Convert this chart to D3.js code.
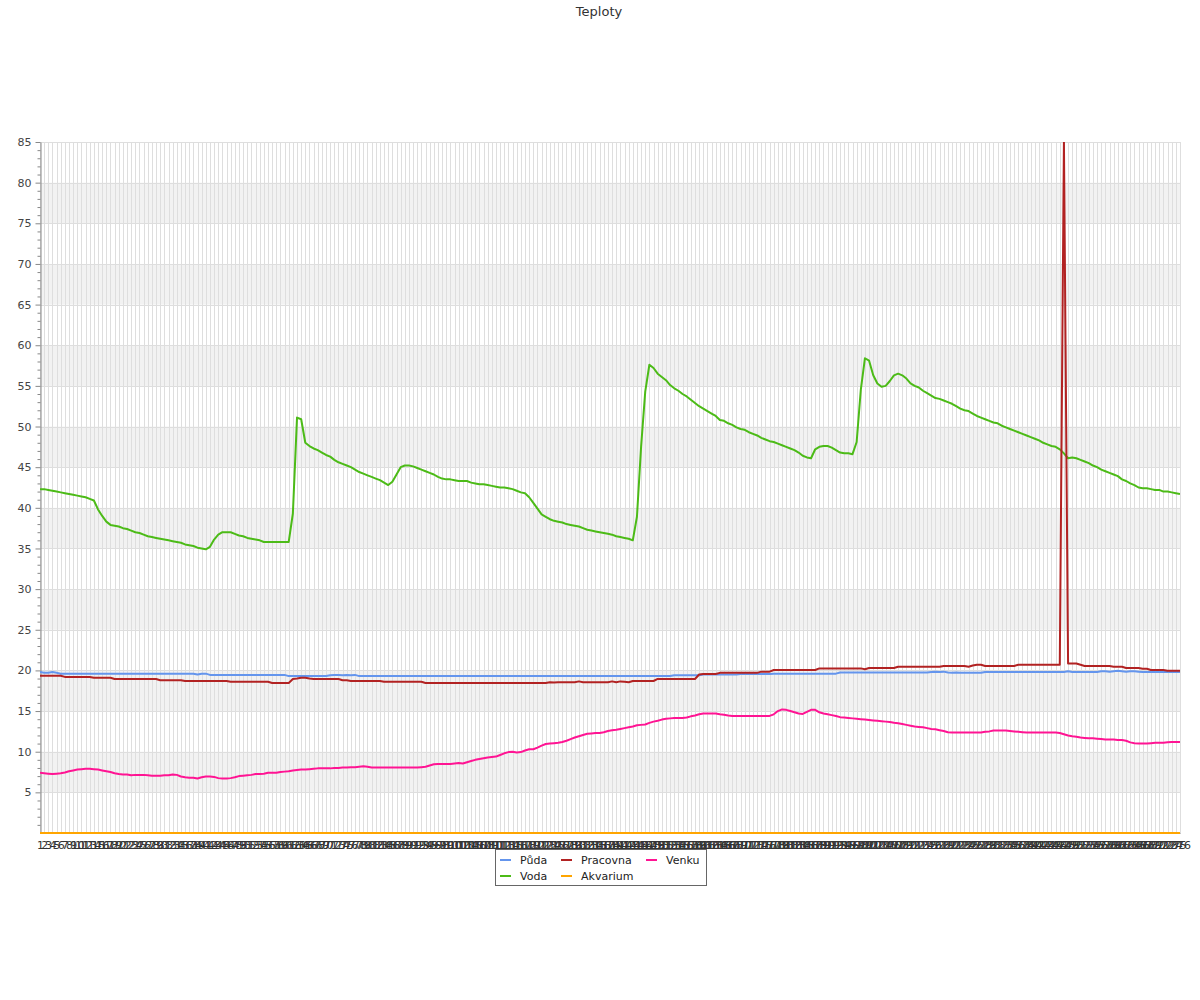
<!DOCTYPE html>
<html><head><meta charset="utf-8">
<script src="https://cdn.jsdelivr.net/npm/d3@7"></script>
<style>body{margin:0;background:#fff;} text{font-family:"DejaVu Sans",sans-serif;}</style>
</head><body><svg id="chart" width="1200" height="1000"></svg>
<script>
const chartTitle = "Teploty";
const categories = [
1,2,3,4,5,6,7,8,9,10,11,12,13,14,15,16,17,18,19,20,
21,22,23,24,25,26,27,28,29,30,31,32,33,34,35,36,37,38,39,40,
41,42,43,44,45,46,47,48,49,50,51,52,53,54,55,56,57,58,59,60,
61,62,63,64,65,66,67,68,69,70,71,72,73,74,75,76,77,78,79,80,
81,82,83,84,85,86,87,88,89,90,91,92,93,94,95,96,97,98,99,100,
101,102,103,104,105,106,107,108,109,110,111,112,113,114,115,116,117,118,119,120,
121,122,123,124,125,126,127,128,129,130,131,132,133,134,135,136,137,138,139,140,
141,142,143,144,145,146,147,148,149,150,151,152,153,154,155,156,157,158,159,160,
161,162,163,164,165,166,167,168,169,170,171,172,173,174,175,176,177,178,179,180,
181,182,183,184,185,186,187,188,189,190,191,192,193,194,195,196,197,198,199,200,
201,202,203,204,205,206,207,208,209,210,211,212,213,214,215,216,217,218,219,220,
221,222,223,224,225,226,227,228,229,230,231,232,233,234,235,236,237,238,239,240,
241,242,243,244,245,246,247,248,249,250,251,252,253,254,255,256,257,258,259,260,
261,262,263,264,265,266,267,268,269,270,271,272,273,274,275,276];

const pudaValues = [
19.8,19.7,19.7,19.8,19.7,19.6,19.6,19.6,19.6,19.6,
19.6,19.6,19.6,19.6,19.6,19.6,19.6,19.6,19.6,19.6,
19.6,19.6,19.6,19.6,19.6,19.6,19.6,19.6,19.6,19.6,
19.6,19.6,19.6,19.6,19.6,19.6,19.6,19.6,19.5,19.6,
19.6,19.45,19.45,19.45,19.45,19.45,19.45,19.45,19.45,19.45,
19.45,19.45,19.45,19.45,19.45,19.45,19.45,19.45,19.45,19.45,
19.3,19.3,19.3,19.3,19.3,19.3,19.3,19.3,19.3,19.3,
19.4,19.45,19.45,19.4,19.45,19.4,19.45,19.3,19.3,19.3,
19.3,19.3,19.3,19.3,19.3,19.3,19.3,19.3,19.3,19.3,
19.3,19.3,19.3,19.3,19.3,19.3,19.3,19.3,19.3,19.3,
19.3,19.3,19.3,19.3,19.3,19.3,19.3,19.3,19.3,19.3,
19.3,19.3,19.3,19.3,19.3,19.3,19.3,19.3,19.3,19.3,
19.3,19.3,19.3,19.3,19.3,19.3,19.3,19.3,19.3,19.3,
19.3,19.3,19.3,19.3,19.3,19.3,19.3,19.3,19.3,19.3,
19.3,19.3,19.3,19.3,19.3,19.3,19.3,19.3,19.3,19.3,
19.3,19.3,19.3,19.4,19.4,19.4,19.4,19.4,19.4,19.4,
19.5,19.5,19.5,19.5,19.5,19.5,19.5,19.5,19.5,19.55,
19.55,19.55,19.55,19.55,19.55,19.55,19.55,19.6,19.6,19.6,
19.6,19.6,19.6,19.6,19.6,19.6,19.6,19.6,19.6,19.6,
19.6,19.6,19.6,19.75,19.75,19.75,19.75,19.75,19.75,19.75,
19.75,19.75,19.75,19.75,19.75,19.75,19.75,19.75,19.75,19.75,
19.75,19.75,19.75,19.75,19.75,19.8,19.85,19.8,19.85,19.75,
19.7,19.75,19.7,19.7,19.7,19.7,19.7,19.7,19.8,19.8,
19.8,19.8,19.8,19.8,19.8,19.8,19.8,19.8,19.8,19.8,
19.8,19.8,19.8,19.8,19.8,19.8,19.8,19.8,19.9,19.8,
19.8,19.8,19.8,19.8,19.8,19.8,19.9,19.9,19.85,19.9,
19.95,19.9,19.85,19.9,19.9,19.85,19.8,19.8,19.8,19.8,
19.8,19.8,19.8,19.8,19.8,19.8];

const vodaValues = [
42.3,42.3,42.2,42.1,42.0,41.9,41.8,41.7,41.6,41.5,
41.4,41.3,41.1,40.9,39.8,39.0,38.3,37.9,37.8,37.7,
37.5,37.4,37.2,37.0,36.9,36.7,36.5,36.4,36.3,36.2,
36.1,36.0,35.9,35.8,35.7,35.5,35.4,35.3,35.1,35.0,
34.9,35.2,36.1,36.7,37.0,37.0,37.0,36.8,36.6,36.5,
36.3,36.2,36.1,36.0,35.8,35.8,35.8,35.8,35.8,35.8,
35.8,39.3,51.1,50.9,48.0,47.6,47.3,47.1,46.8,46.5,
46.3,45.9,45.6,45.4,45.2,45.0,44.7,44.4,44.2,44.0,
43.8,43.6,43.4,43.1,42.8,43.2,44.1,45.0,45.2,45.2,
45.1,44.9,44.7,44.5,44.3,44.1,43.8,43.6,43.5,43.5,
43.4,43.3,43.3,43.3,43.1,43.0,42.9,42.9,42.8,42.7,
42.6,42.5,42.5,42.4,42.3,42.1,41.9,41.8,41.3,40.6,
39.9,39.2,38.9,38.6,38.4,38.3,38.2,38.0,37.9,37.8,
37.7,37.5,37.3,37.2,37.1,37.0,36.9,36.8,36.7,36.5,
36.4,36.3,36.2,36.0,38.9,47.5,54.3,57.6,57.2,56.5,
56.1,55.7,55.1,54.7,54.4,54.0,53.7,53.3,52.9,52.5,
52.2,51.9,51.6,51.3,50.8,50.7,50.4,50.2,49.9,49.7,
49.6,49.3,49.1,48.9,48.6,48.4,48.2,48.1,47.9,47.7,
47.5,47.3,47.1,46.8,46.4,46.2,46.1,47.2,47.5,47.6,
47.6,47.4,47.1,46.8,46.7,46.7,46.6,48.1,54.5,58.4,
58.1,56.3,55.3,54.9,55.0,55.6,56.3,56.5,56.3,55.9,
55.3,55.0,54.8,54.4,54.1,53.8,53.5,53.4,53.2,53.0,
52.8,52.5,52.2,52.0,51.9,51.6,51.3,51.1,50.9,50.7,
50.5,50.4,50.1,49.9,49.7,49.5,49.3,49.1,48.9,48.7,
48.5,48.3,48.0,47.8,47.6,47.5,47.2,46.7,46.1,46.2,
46.1,45.9,45.7,45.5,45.2,45.0,44.7,44.5,44.3,44.1,
43.9,43.5,43.3,43.0,42.8,42.5,42.4,42.4,42.3,42.2,
42.2,42.0,42.0,41.9,41.8,41.7];

const pracovnaValues = [
19.35,19.35,19.35,19.35,19.35,19.35,19.2,19.2,19.2,19.2,
19.2,19.2,19.2,19.1,19.1,19.1,19.1,19.1,18.95,18.95,
18.95,18.95,18.95,18.95,18.95,18.95,18.95,18.95,18.95,18.8,
18.8,18.8,18.8,18.8,18.8,18.7,18.7,18.7,18.7,18.7,
18.7,18.7,18.7,18.7,18.7,18.7,18.6,18.6,18.6,18.6,
18.6,18.6,18.6,18.6,18.6,18.6,18.45,18.45,18.45,18.45,
18.45,18.95,19.0,19.1,19.1,19.0,18.95,18.95,18.95,18.95,
18.95,18.95,18.95,18.8,18.8,18.7,18.7,18.7,18.7,18.7,
18.7,18.7,18.7,18.6,18.6,18.6,18.6,18.6,18.6,18.6,
18.6,18.6,18.6,18.45,18.45,18.45,18.45,18.45,18.45,18.45,
18.45,18.45,18.45,18.45,18.45,18.45,18.45,18.45,18.45,18.45,
18.45,18.45,18.45,18.45,18.45,18.45,18.45,18.45,18.45,18.45,
18.45,18.45,18.45,18.55,18.5,18.55,18.55,18.55,18.55,18.55,
18.65,18.55,18.55,18.55,18.55,18.55,18.55,18.55,18.65,18.55,
18.65,18.6,18.55,18.7,18.7,18.7,18.7,18.7,18.7,18.95,
18.95,18.95,18.95,18.95,18.95,18.95,18.95,18.95,18.95,19.5,
19.55,19.55,19.55,19.55,19.7,19.7,19.7,19.7,19.7,19.7,
19.7,19.7,19.7,19.7,19.85,19.85,19.85,20.05,20.05,20.05,
20.05,20.05,20.05,20.05,20.05,20.05,20.05,20.05,20.25,20.25,
20.25,20.25,20.25,20.25,20.25,20.25,20.25,20.25,20.25,20.15,
20.3,20.3,20.3,20.3,20.3,20.3,20.3,20.45,20.45,20.45,
20.45,20.45,20.45,20.45,20.45,20.45,20.45,20.45,20.55,20.55,
20.55,20.55,20.55,20.55,20.45,20.6,20.7,20.7,20.55,20.55,
20.55,20.55,20.55,20.55,20.55,20.55,20.7,20.7,20.7,20.7,
20.7,20.7,20.7,20.7,20.7,20.7,20.7,85,20.85,20.85,
20.85,20.7,20.55,20.55,20.55,20.55,20.55,20.55,20.55,20.45,
20.45,20.45,20.3,20.3,20.3,20.3,20.2,20.2,20.05,20.05,
20.05,20.05,19.95,19.95,19.95,19.95];

const akvariumValues = [
0,0,0,0,0,0,0,0,0,0, 0,0,0,0,0,0,0,0,0,0, 0,0,0,0,0,0,0,0,0,0,
0,0,0,0,0,0,0,0,0,0, 0,0,0,0,0,0,0,0,0,0, 0,0,0,0,0,0,0,0,0,0,
0,0,0,0,0,0,0,0,0,0, 0,0,0,0,0,0,0,0,0,0, 0,0,0,0,0,0,0,0,0,0,
0,0,0,0,0,0,0,0,0,0, 0,0,0,0,0,0,0,0,0,0, 0,0,0,0,0,0,0,0,0,0,
0,0,0,0,0,0,0,0,0,0, 0,0,0,0,0,0,0,0,0,0, 0,0,0,0,0,0,0,0,0,0,
0,0,0,0,0,0,0,0,0,0, 0,0,0,0,0,0,0,0,0,0, 0,0,0,0,0,0,0,0,0,0,
0,0,0,0,0,0,0,0,0,0, 0,0,0,0,0,0,0,0,0,0, 0,0,0,0,0,0,0,0,0,0,
0,0,0,0,0,0,0,0,0,0, 0,0,0,0,0,0,0,0,0,0, 0,0,0,0,0,0,0,0,0,0,
0,0,0,0,0,0,0,0,0,0, 0,0,0,0,0,0,0,0,0,0, 0,0,0,0,0,0,0,0,0,0,
0,0,0,0,0,0];

const venkuValues = [
7.4,7.35,7.3,7.25,7.3,7.35,7.45,7.6,7.7,7.8,
7.85,7.9,7.9,7.85,7.8,7.7,7.6,7.5,7.35,7.25,
7.2,7.2,7.1,7.15,7.15,7.15,7.1,7.05,7.05,7.05,
7.1,7.1,7.2,7.15,6.95,6.85,6.8,6.8,6.7,6.85,
6.95,6.95,6.9,6.75,6.7,6.7,6.75,6.85,7.0,7.05,
7.1,7.15,7.25,7.25,7.3,7.4,7.4,7.4,7.5,7.55,
7.6,7.7,7.75,7.8,7.8,7.85,7.9,7.95,7.95,7.95,
7.95,8.0,8.0,8.05,8.05,8.1,8.1,8.15,8.2,8.15,
8.05,8.05,8.05,8.05,8.05,8.05,8.05,8.05,8.05,8.05,
8.05,8.05,8.1,8.15,8.3,8.45,8.5,8.5,8.5,8.5,
8.55,8.6,8.55,8.7,8.85,9.0,9.1,9.2,9.3,9.35,
9.4,9.6,9.8,9.95,10.0,9.9,9.95,10.15,10.3,10.3,
10.5,10.75,10.95,11.0,11.05,11.1,11.2,11.35,11.55,11.75,
11.9,12.05,12.2,12.25,12.3,12.3,12.4,12.55,12.65,12.7,
12.8,12.9,13.0,13.1,13.25,13.3,13.35,13.55,13.7,13.8,
13.95,14.05,14.1,14.15,14.15,14.15,14.2,14.35,14.45,14.6,
14.7,14.7,14.7,14.7,14.6,14.55,14.45,14.4,14.4,14.4,
14.4,14.4,14.4,14.4,14.4,14.4,14.4,14.6,15.0,15.2,
15.15,15.0,14.85,14.7,14.65,14.9,15.15,15.15,14.85,14.7,
14.6,14.5,14.4,14.25,14.2,14.15,14.1,14.05,14.0,13.95,
13.9,13.85,13.8,13.75,13.7,13.65,13.55,13.5,13.4,13.3,
13.2,13.1,13.05,13.0,12.9,12.8,12.75,12.65,12.55,12.4,
12.35,12.35,12.35,12.35,12.35,12.35,12.35,12.35,12.45,12.5,
12.6,12.6,12.6,12.6,12.55,12.5,12.45,12.4,12.35,12.35,
12.35,12.35,12.35,12.35,12.35,12.35,12.3,12.15,12.0,11.9,
11.85,11.75,11.7,11.65,11.65,11.6,11.55,11.5,11.5,11.5,
11.45,11.45,11.35,11.15,11.05,11.0,11.0,11.0,11.05,11.1,
11.1,11.1,11.15,11.2,11.2,11.2];

const seriesNames = ["Půda", "Voda", "Pracovna", "Akvarium", "Venku"];
const seriesColors = ["#6495ed", "#4cbb17", "#b22222", "#ffa500", "#ff1493"];
const seriesValues = [pudaValues, vodaValues, pracovnaValues, akvariumValues, venkuValues];
const legendOrder = ["Půda", "Pracovna", "Venku", "Voda", "Akvarium"];
const yMajorTicks = [5,10,15,20,25,30,35,40,45,50,55,60,65,70,75,80,85];
const yMinorTicks = [1,2,3,4,6,7,8,9,11,12,13,14,16,17,18,19,21,22,23,24,26,27,28,29,31,32,33,34,36,37,38,39,41,42,43,44,46,47,48,49,51,52,53,54,56,57,58,59,61,62,63,64,66,67,68,69,71,72,73,74,76,77,78,79,81,82,83,84];
const yDomain = [0, 85];

const svg = d3.select("#chart");
const P = {left: 40, right: 1180, top: 142, bottom: 833};
const x = d3.scalePoint().domain(categories).range([P.left, P.right]);
const y = d3.scaleLinear().domain(yDomain).range([P.bottom, P.top]);

// title
svg.append("text").attr("x", 599).attr("y", 16).attr("text-anchor", "middle")
  .attr("font-size", 13).attr("fill", "#333").text(chartTitle);

// alternating bands
const bands = yMajorTicks.filter(v => v % 10 === 5 && v < yDomain[1]);
svg.append("g").selectAll("rect").data(bands).join("rect")
  .attr("x", P.left).attr("width", P.right - P.left)
  .attr("y", d => y(d + 5)).attr("height", d => y(d) - y(d + 5))
  .attr("fill", "#f2f2f2");

// vertical grid
svg.append("g").selectAll("line").data(categories).join("line")
  .attr("x1", d => Math.round(x(d)) + 0.5).attr("x2", d => Math.round(x(d)) + 0.5)
  .attr("y1", P.top).attr("y2", P.bottom)
  .attr("stroke", "#dedede").attr("stroke-width", 1);

// horizontal grid
svg.append("g").selectAll("line").data(yMajorTicks).join("line")
  .attr("x1", P.left).attr("x2", P.right)
  .attr("y1", d => Math.round(y(d)) + 0.5).attr("y2", d => Math.round(y(d)) + 0.5)
  .attr("stroke", "#dedede").attr("stroke-width", 1);

// y axis
const yAxisG = svg.append("g").attr("transform", `translate(${P.left + 0.5},0)`)
  .call(d3.axisLeft(y).tickValues(yMajorTicks).tickSize(5).tickSizeOuter(0).tickPadding(4));
yAxisG.selectAll("text").attr("font-size", 11).attr("fill", "#444").attr("font-family", "DejaVu Sans");
yAxisG.selectAll("line").attr("stroke", "#888");
yAxisG.select(".domain").attr("stroke", "#888");
const yMinorG = svg.append("g").attr("transform", `translate(${P.left + 0.5},0)`)
  .call(d3.axisLeft(y).tickValues(yMinorTicks).tickSize(3).tickSizeOuter(0).tickFormat(""));
yMinorG.selectAll("line").attr("stroke", "#888");
yMinorG.select(".domain").remove();

// x axis
const xAxisG = svg.append("g").attr("transform", `translate(0,${P.bottom})`)
  .call(d3.axisBottom(x).tickSize(0).tickPadding(8));
xAxisG.select(".domain").attr("stroke", "#888");
xAxisG.selectAll("text").attr("font-size", 11).attr("fill", "#333").attr("font-family", "DejaVu Sans");

// lines
svg.append("clipPath").attr("id", "clip").append("rect")
  .attr("x", P.left).attr("y", P.top).attr("width", P.right - P.left).attr("height", P.bottom - P.top + 2);
const line = d3.line().x((d, i) => x(categories[i])).y(d => y(d));
const linesG = svg.append("g").attr("clip-path", "url(#clip)");
seriesNames.forEach((name, k) => {
  linesG.append("path").datum(seriesValues[k])
    .attr("d", line).attr("fill", "none")
    .attr("stroke", seriesColors[k]).attr("stroke-width", 2)
    .attr("stroke-linejoin", "round");
});

// legend
const lg = svg.append("g");
lg.append("rect").attr("x", 495.5).attr("y", 849.5).attr("width", 211).attr("height", 36)
  .attr("fill", "#fff").attr("stroke", "#666");
const colX = [500, 561, 646];
const rowY = [860, 876];
legendOrder.forEach((name, j) => {
  const k = seriesNames.indexOf(name);
  const cx = colX[j % 3], cy = rowY[Math.floor(j / 3)];
  lg.append("line").attr("x1", cx).attr("x2", cx + 11).attr("y1", cy).attr("y2", cy)
    .attr("stroke", seriesColors[k]).attr("stroke-width", 2);
  lg.append("text").attr("x", cx + 20).attr("y", cy).attr("dy", "0.35em")
    .attr("font-size", 11).attr("fill", "#222").text(name);
});
</script></body></html>
